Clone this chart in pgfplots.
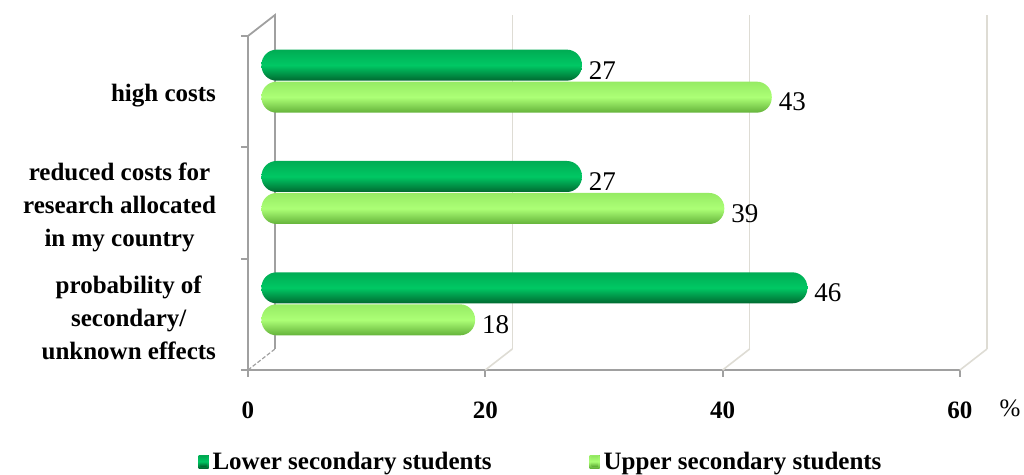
\documentclass[border=0pt]{standalone}
\usepackage{fontspec}
\setmainfont{Liberation Serif}
\usepackage{pgfplots}
\pgfplotsset{compat=1.18}

\definecolor{axisgrey}{RGB}{160,160,160}
\definecolor{wallgrey}{RGB}{222,220,212}
\definecolor{darkA}{RGB}{0,172,84}
\definecolor{darkB}{RGB}{0,200,100}
\definecolor{darkC}{RGB}{0,105,48}
\definecolor{lightA}{RGB}{150,235,100}
\definecolor{lightB}{RGB}{172,255,118}
\definecolor{lightC}{RGB}{100,178,58}

\newcommand{\labfont}{\fontsize{12.5}{16.5}\selectfont\bfseries}

\pgfplotsset{
  lower/.style={xbar, bar shift=8pt, draw=none, rounded corners=7.5pt,
    top color=darkA, bottom color=darkC, middle color=darkB,
    legend image code/.code={%
      \fill[darkC, sharp corners] (0pt,-3pt) rectangle (5pt,3.5pt);
      \fill[darkB, sharp corners] (0.9pt,-2pt) rectangle (4.1pt,2.6pt);}},
  upper/.style={xbar, bar shift=-8pt, draw=none, rounded corners=7.5pt,
    top color=lightA, bottom color=lightC, middle color=lightB,
    legend image code/.code={%
      \fill[lightC, sharp corners] (0pt,-3pt) rectangle (5pt,3.5pt);
      \fill[lightB, sharp corners] (0.9pt,-2pt) rectangle (4.1pt,2.6pt);}},
}

\begin{document}
\begin{tikzpicture}
\useasboundingbox (0,0) rectangle (512pt,237.5pt);

% front frame: axes, ticks, category names and the back wall
\begin{axis}[
  at={(124pt,52.5pt)}, anchor=south west,
  scale only axis, width=356pt, height=167pt,
  xmin=0, xmax=60, ymin=-0.5, ymax=2.5,
  axis x line*=bottom, axis y line*=left,
  axis line style={axisgrey, line width=0.9pt},
  tick align=outside,
  major tick length=3.5pt, minor tick length=3.5pt,
  xtick={0,20,40,60},
  xticklabels={0,20,40,60},
  xtick style={axisgrey, line width=0.9pt},
  xticklabel style={font=\labfont, yshift=-9pt},
  ytick={0,1,2},
  yticklabels={{probability of\\secondary/\\unknown effects},
               {reduced costs for\\research allocated\\in my country},
               {high costs}},
  yticklabel style={font=\labfont, align=center, xshift=-9pt, yshift=-2pt},
  minor ytick={-0.5,0.5,1.5,2.5},
  major y tick style={draw=none},
  minor y tick style={axisgrey, line width=0.9pt},
  clip=false,
]
% back wall grid lines
\draw[wallgrey, line width=0.8pt, xshift=13.5pt, yshift=10.5pt]
  (axis cs:20,-0.5) -- (axis cs:20,2.5)
  (axis cs:40,-0.5) -- (axis cs:40,2.5)
  (axis cs:60,-0.5) -- (axis cs:60,2.5);
% floor edges
\draw[wallgrey, line width=0.8pt]
  (axis cs:20,-0.5) -- ++(13.5pt,10.5pt)
  (axis cs:40,-0.5) -- ++(13.5pt,10.5pt)
  (axis cs:60,-0.5) -- ++(13.5pt,10.5pt);
\draw[axisgrey, line width=0.6pt, dash pattern=on 2pt off 1pt]
  (axis cs:0,-0.5) -- ++(13.5pt,10.5pt);
% left wall edges
\draw[axisgrey, line width=0.9pt]
  (axis cs:0,2.5) -- ++(13.5pt,10.5pt) -- ([xshift=13.5pt,yshift=10.5pt]axis cs:0,-0.5);
\node[font=\fontsize{12.5}{15}\selectfont] at (rel axis cs:1,0) [xshift=25pt, yshift=-19pt] {\%};
\end{axis}

% bars, set at mid depth; one plot per bar so that each bar gets its own shading
\begin{axis}[
  at={(130.75pt,57.75pt)}, anchor=south west,
  scale only axis, width=356pt, height=167pt,
  xmin=0, xmax=60, ymin=-0.5, ymax=2.5,
  axis lines=none, clip=false,
  xbar, bar width=15.5pt,
  nodes near coords,
  /pgf/number format/assume math mode=true,
  every node near coord/.append style={font=\fontsize{13.5}{16}\selectfont, text=black, anchor=west, yshift=-2.5pt},
  legend columns=2,
  legend style={at={(rel axis cs:0.394,-0.307)}, anchor=center, draw=none, fill=none,
    font=\labfont, inner sep=0pt,
    /tikz/every even column/.append style={column sep=47pt}},
]
% Lower secondary students
\addplot[lower] coordinates {(27,2)};
\addlegendentry{Lower secondary students}
% Upper secondary students
\addplot[upper] coordinates {(43,2)};
\addlegendentry{Upper secondary students}
\addplot[lower, forget plot] coordinates {(27,1)};
\addplot[lower, forget plot] coordinates {(46,0)};
\addplot[upper, forget plot] coordinates {(39,1)};
\addplot[upper, forget plot] coordinates {(18,0)};
\end{axis}
\end{tikzpicture}
\end{document}
